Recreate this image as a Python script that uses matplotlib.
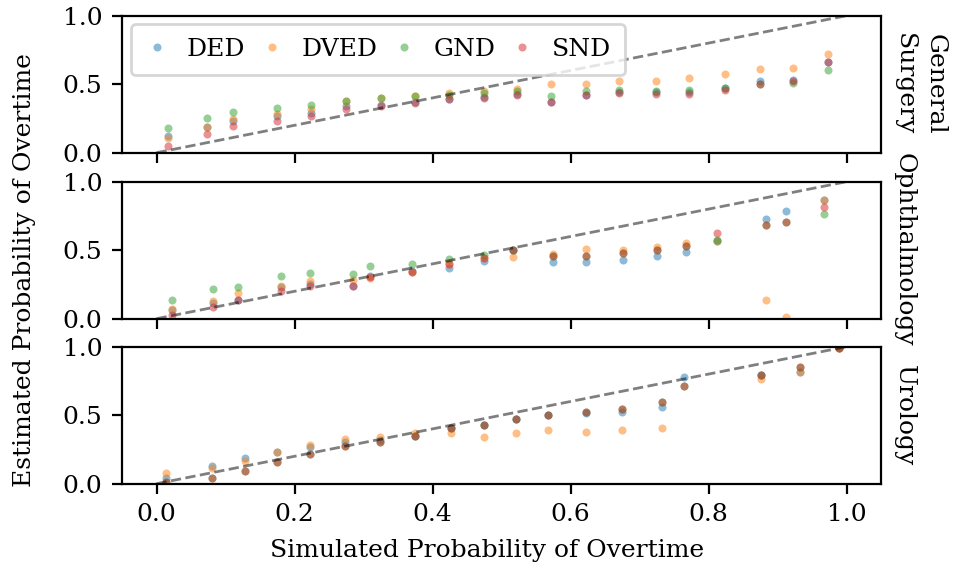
import numpy as np
import matplotlib
matplotlib.use("Agg")
import matplotlib.pyplot as plt

plt.rcParams['font.family'] = ['DejaVu Serif']
plt.rcParams['font.size'] = 9

series = ["DED", "DVED", "GND", "SND"]
colors = ["#1f77b4", "#ff7f0e", "#2ca02c", "#d62728"]
panels = ["General\nSurgery", "Ophthalmology", "Urology"]
nan = np.nan

# General Surgery
gs_x = [0.016, 0.073, 0.111, 0.174, 0.224, 0.274, 0.325, 0.374, 0.424, 0.474,
        0.523, 0.572, 0.623, 0.671, 0.724, 0.772, 0.824, 0.874, 0.923, 0.973]
gs_ded = [0.12, 0.19, 0.235, 0.268, 0.29, 0.341, 0.351, 0.37, 0.39, 0.41,
          0.43, 0.37, 0.422, 0.44, 0.44, 0.44, 0.47, 0.525, 0.532, 0.66]
gs_dved = [0.106, 0.19, 0.248, 0.285, 0.321, 0.38, 0.397, 0.415, 0.434, 0.451,
           0.468, 0.498, 0.498, 0.525, 0.525, 0.547, 0.571, 0.608, 0.62, 0.72]
gs_gnd = [0.18, 0.255, 0.297, 0.326, 0.351, 0.38, 0.397, 0.415, 0.424, 0.437,
          0.45, 0.412, 0.451, 0.461, 0.451, 0.461, 0.473, 0.505, 0.507, 0.603]
gs_snd = [0.05, 0.137, 0.196, 0.233, 0.268, 0.316, 0.341, 0.36, 0.39, 0.4,
          0.419, 0.37, 0.422, 0.437, 0.432, 0.432, 0.461, 0.505, 0.52, 0.66]

# Ophthalmology
op_x = [0.023, 0.082, 0.118, 0.18, 0.223, 0.285, 0.309, 0.371, 0.424, 0.475,
        0.517, 0.575, 0.622, 0.676, 0.725, 0.767, 0.812, 0.883, 0.912, 0.967]
op_ded = [0.06, 0.118, 0.135, 0.228, 0.253, 0.24, 0.314, 0.345, 0.373, 0.419,
          0.5, 0.417, 0.417, 0.429, 0.456, 0.49, 0.57, 0.731, 0.784, 0.87]
op_dved = [0.069, 0.13, 0.184, 0.24, 0.277, 0.282, 0.297, 0.338, 0.396, 0.444,
           0.449, 0.473, 0.51, 0.503, 0.522, 0.551, 0.564, 0.14, 0.0125, 0.87]
op_gnd = [0.135, 0.218, 0.233, 0.312, 0.334, 0.326, 0.385, 0.402, 0.434, 0.468,
          0.498, 0.461, 0.461, 0.478, 0.505, 0.534, 0.576, 0.686, 0.709, 0.767]
op_snd = [0.027, 0.086, 0.135, 0.204, 0.24, 0.24, 0.301, 0.338, 0.4, 0.444,
          0.505, 0.461, 0.461, 0.478, 0.505, 0.534, 0.625, 0.686, 0.709, 0.816]

# Urology
ur_x = [0.0135, 0.081, 0.128, 0.174, 0.222, 0.273, 0.324, 0.375, 0.427, 0.474,
        0.521, 0.567, 0.622, 0.675, 0.732, 0.764, 0.876, 0.932, 0.989]
ur_ded = [0.044, 0.13, 0.189, 0.228, 0.265, 0.301, 0.32, 0.351, 0.407, 0.429,
          0.473, 0.503, 0.515, 0.522, 0.559, 0.777, 0.797, 0.816, 0.988]
ur_dved = [0.076, 0.118, 0.167, 0.228, 0.282, 0.326, 0.338, 0.37, 0.37, 0.338,
           0.37, 0.393, 0.38, 0.393, 0.407, nan, 0.767, 0.816, 0.988]
ur_gnd = [0.0125, 0.044, 0.093, 0.16, 0.216, 0.277, 0.307, 0.351, 0.407, 0.429,
          0.473, 0.503, 0.522, 0.544, 0.6, 0.71, 0.797, 0.853, 0.988]
ur_snd = [0.0125, 0.044, 0.093, 0.16, 0.216, 0.277, 0.307, 0.351, 0.407, 0.429,
          0.473, 0.503, 0.522, 0.544, 0.6, 0.71, 0.797, 0.853, 0.988]

data = [
    (gs_x, [gs_ded, gs_dved, gs_gnd, gs_snd]),
    (op_x, [op_ded, op_dved, op_gnd, op_snd]),
    (ur_x, [ur_ded, ur_dved, ur_gnd, ur_snd]),
]

fig = plt.figure(figsize=(9.65 / 2, 5.73 / 2), dpi=200)
W, H = 965.0, 573.0
left = 122 / W
width = (881 - 122) / W
tops = [15.7, 181.7, 346.7]
ph = 137.0

axes = []
for i, (xs, ys) in enumerate(data):
    ax = fig.add_axes([left, 1 - (tops[i] + ph) / H, width, ph / H])
    axes.append(ax)
    for name, col, y in zip(series, colors, ys):
        ax.plot(xs, y, 'o', color=col, alpha=0.5, ms=2.9, mew=0, label=name)
    ax.plot([0, 1], [0, 1], '--', color='k', alpha=0.5, lw=1)
    ax.set_xlim(-0.05, 1.05)
    ax.set_ylim(0, 1)
    ax.set_yticks([0, 0.5, 1.0])
    ax.set_xticks([0, 0.2, 0.4, 0.6, 0.8, 1.0])
    if i < 2:
        ax.tick_params(axis='x', labelbottom=False)
    ax.text(1.015, 0.5, panels[i], transform=ax.transAxes, rotation=270,
            ha='left', va='center', multialignment='center', linespacing=1.45)

axes[0].legend(loc='upper left', ncol=4, handlelength=1.0, handletextpad=0.7,
               columnspacing=0.55, borderaxespad=0.35, borderpad=0.55)

fig.text(25 / W, 1 - 270 / H, "Estimated Probability of Overtime", rotation=90,
         ha='center', va='center')
fig.text(487 / W, 1 - 550 / H, "Simulated Probability of Overtime",
         ha='center', va='center')

fig.savefig("out.png", dpi=200)
